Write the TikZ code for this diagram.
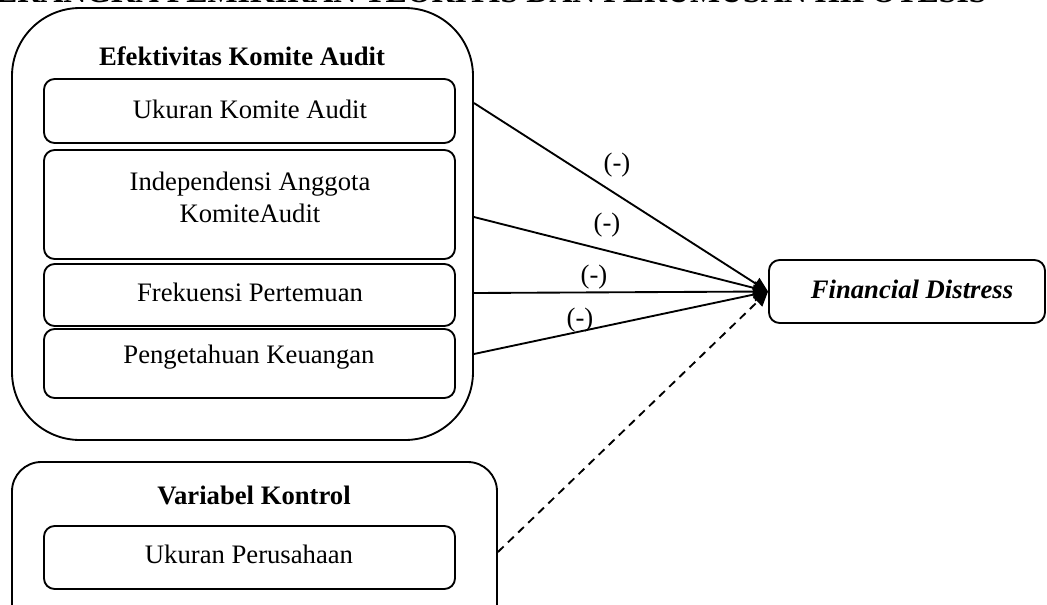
\documentclass[tikz,border=0pt]{standalone}
\usepackage{fontspec}
\setmainfont{Liberation Serif}
\usetikzlibrary{arrows.meta,fit}
\begin{document}
\begin{tikzpicture}[x=0.75pt,y=-0.75pt,
  lw/.style={line width=1.4pt},
  ibox/.style={draw,lw,rounded corners=8pt,inner sep=0pt},
  bigbox/.style={draw,lw,rounded corners=51pt,inner sep=0pt},
  ctlbox/.style={draw,lw,rounded corners=22pt,inner sep=0pt},
  txt/.style={anchor=base,inner sep=0pt,font=\fontsize{20}{24}\selectfont},
  hdr/.style={txt,font=\fontsize{20}{24}\selectfont\bfseries},
  lbl/.style={inner sep=0pt,font=\fontsize{20}{24}\selectfont},
  arr/.style={lw,-{Triangle[length=11pt,width=10pt]}},
  darr/.style={arr,dash pattern=on 6pt off 4.5pt}
]
\useasboundingbox (0,0) rectangle (1047,604);
\clip (0,0) rectangle (1047,604);

% title (cut off at the top)
\node[anchor=base east,inner sep=0pt,font=\fontsize{23.9}{28}\selectfont\bfseries] (title) at (987,2)
  {KERANGKA PEMIKIRAN TEORITIS DAN PERUMUSAN HIPOTESIS};

% group 1
\node[bigbox,fit={(12,8) (473,440)}] (outer) {};
\node[hdr] (h1) at (242,65) {Efektivitas Komite Audit};
\node[ibox,fit={(44,79) (455,143)}] (b1) {};
\node[txt] (t1) at (250,118) {Ukuran Komite Audit};
\node[ibox,fit={(44,150) (455,259)}] (b2) {};
\node[txt] (t2a) at (250,190) {Independensi Anggota};
\node[txt] (t2b) at (250,222) {KomiteAudit};
\node[ibox,fit={(44,264) (455,326)}] (b3) {};
\node[txt] (t3) at (250,301) {Frekuensi Pertemuan};
\node[ibox,fit={(44,329) (455,398)}] (b4) {};
\node[txt] (t4) at (249,363) {Pengetahuan Keuangan};

% group 2
\node[ctlbox,fit={(12,462) (497,640)}] (outer2) {};
\node[hdr] (h2) at (254,504) {Variabel Kontrol};
\node[ibox,fit={(44,526) (455,589)}] (b5) {};
\node[txt] (t5) at (249,563) {Ukuran Perusahaan};

% dependent
\node[ibox,fit={(769,260) (1045,323)}] (fd) {};
\node[txt,font=\fontsize{20}{24}\selectfont\bfseries\itshape] (tfd) at (912,298) {Financial Distress};

% connector start points on the outer boxes
\coordinate (s1) at (outer.east |- 0,103);
\coordinate (s2) at (outer.east |- 0,217);
\coordinate (s3) at (outer.east |- 0,293);
\coordinate (s4) at (outer.east |- 0,354);
\coordinate (s5) at (outer2.east |- 0,552);

\draw[arr] (s1) -- (fd.west);
\draw[arr] (s2) -- (fd.west);
\draw[arr] (s3) -- (fd.west);
\draw[arr] (s4) -- (fd.west);
\draw[darr] (s5) -- (fd.west);

\node[lbl] (l1) at (617,165) {(-)};
\node[lbl] (l2) at (607,225) {(-)};
\node[lbl] (l3) at (594,277) {(-)};
\node[lbl] (l4) at (580,320) {(-)};
\end{tikzpicture}
\end{document}
